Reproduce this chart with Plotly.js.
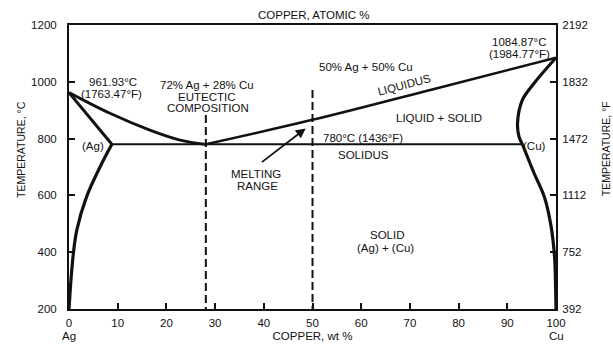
<!DOCTYPE html>
<html>
<head>
<meta charset="utf-8">
<script src="https://cdn.plot.ly/plotly-3.0.1.min.js"></script>
<style>
html,body{margin:0;padding:0;background:#fff;}
#chart{width:613px;height:344px;}
</style>
</head>
<body>
<div id="chart"></div>
<script>
// ---- data (wt % Cu, temperature °C) ----
var agSolidusX = [0, 8.8];
var agSolidusT = [961.93, 780];
var agSolvusX = [8.8, 6.4, 3.6, 1.6, 0.9, 0.4, 0.15, 0];
var agSolvusT = [780, 701, 595, 478, 396, 302, 240, 200];
var liquidusLeftX = [0, 8.4, 16.6, 22.8, 28.1];
var liquidusLeftT = [961.93, 889, 830, 795, 780];
var liquidusRightX = [28.1, 50, 75, 100];
var liquidusRightT = [780, 866, 975, 1084.87];
var eutecticLineX = [8.8, 93.1];
var eutecticLineT = [780, 780];
var cuSolidusX = [100, 95.5, 93.1, 92.1, 92.4, 93.1];
var cuSolidusT = [1084.87, 995, 936, 854, 807, 780];
var cuSolvusX = [93.1, 95.5, 97.6, 99, 99.7, 99.9, 100];
var cuSolvusT = [780, 678, 595, 490, 384, 290, 200];
var eutecticCompX = [28.1, 28.1];
var eutecticCompT = [883, 200];
var halfCompX = [50, 50];
var halfCompT = [971, 200];

var xTickVals = [0, 10, 20, 30, 40, 50, 60, 70, 80, 90, 100];
var xTickText = ['0', '10', '20', '30', '40', '50', '60', '70', '80', '90', '100'];
var cTickVals = [200, 400, 600, 800, 1000, 1200];
var fTickVals = [392, 752, 1112, 1472, 1832, 2192];

var FONT = 'Liberation Sans, Arial, Helvetica, sans-serif';
var INK = '#111111';
var FS = 11.5;

function curve(x, y, w, shape, dash) {
  return {
    x: x, y: y, type: 'scatter', mode: 'lines', hoverinfo: 'skip', showlegend: false,
    line: {color: INK, width: w, shape: shape || 'linear', smoothing: 1, dash: dash || 'solid'}
  };
}

var traces = [
  curve(agSolidusX, agSolidusT, 3),
  curve(agSolvusX, agSolvusT, 3.2, 'spline'),
  curve(liquidusLeftX, liquidusLeftT, 2.8, 'spline'),
  curve(liquidusRightX, liquidusRightT, 2.6, 'spline'),
  curve(eutecticLineX, eutecticLineT, 2),
  curve(cuSolidusX, cuSolidusT, 3.2, 'spline'),
  curve(cuSolvusX, cuSolvusT, 3.2, 'spline'),
  curve(eutecticCompX, eutecticCompT, 2, 'linear', '8px,4px'),
  curve(halfCompX, halfCompT, 2, 'linear', '8px,4px')
];
// invisible trace to anchor the °F axis
traces.push({x: [50], y: [1472], yaxis: 'y2', type: 'scatter', mode: 'markers',
  marker: {opacity: 0}, hoverinfo: 'skip', showlegend: false});

function lab(text, x, y, extra) {
  var a = {text: text, x: x, y: y, xref: 'x', yref: 'y', showarrow: false,
    xanchor: 'center', yanchor: 'middle', font: {family: FONT, size: FS, color: INK}};
  if (extra) for (var k in extra) a[k] = extra[k];
  return a;
}

var annotations = [
  lab('961.93°C', 9.05, 999),
  lab('(1763.47°F)', 8.64, 957),
  lab('72% Ag + 28% Cu', 28.33, 989),
  lab('EUTECTIC', 28.33, 945),
  lab('COMPOSITION', 28.5, 909),
  lab('(Ag)', 5.0, 775),
  lab('50% Ag + 50% Cu', 61.07, 1051),
  lab('LIQUIDUS', 68.8, 988, {textangle: -15}),
  lab('LIQUID + SOLID', 75.93, 871),
  lab('780°C (1436°F)', 60.29, 801),
  lab('SOLIDUS', 60.56, 742),
  lab('(Cu)', 95.64, 775),
  lab('1084.87°C', 92.45, 1139),
  lab('(1984.77°F)', 92.53, 1097),
  lab('MELTING', 38.48, 675),
  lab('RANGE', 38.68, 633),
  lab('SOLID', 65.37, 459),
  lab('(Ag) + (Cu)', 65.08, 415),
  // arrow from MELTING RANGE to the liquidus
  {x: 48.6, y: 836, ax: 39.3, ay: 713, xref: 'x', yref: 'y', axref: 'x', ayref: 'y',
   text: '', showarrow: true, arrowhead: 2, arrowsize: 1.1, arrowwidth: 1.8, arrowcolor: INK},
  // top axis label
  {text: 'COPPER, ATOMIC %', xref: 'paper', yref: 'paper', x: 0.503, y: 1.035,
   xanchor: 'center', yanchor: 'middle', showarrow: false, font: {family: FONT, size: FS, color: INK}},
  // element labels under the x axis
  {text: 'Ag', xref: 'x', yref: 'paper', x: 0, y: -0.0966, yanchor: 'middle', xanchor: 'center',
   showarrow: false, font: {family: FONT, size: FS, color: INK}},
  {text: 'Cu', xref: 'x', yref: 'paper', x: 100, y: -0.0966, yanchor: 'middle', xanchor: 'center',
   showarrow: false, font: {family: FONT, size: FS, color: INK}},
  // y axis titles
  {text: 'TEMPERATURE, °C', xref: 'paper', yref: 'paper', x: -0.099, y: 0.563,
   xanchor: 'center', yanchor: 'middle', textangle: -90, showarrow: false,
   font: {family: FONT, size: FS - 1, color: INK}},
  {text: 'TEMPERATURE, °F', xref: 'paper', yref: 'paper', x: 1.103, y: 0.563,
   xanchor: 'center', yanchor: 'middle', textangle: -90, showarrow: false,
   font: {family: FONT, size: FS - 1, color: INK}}
];

var axisCommon = {
  showgrid: false, zeroline: false, showline: true, linecolor: INK, linewidth: 2,
  ticks: 'inside', tickcolor: INK, tickwidth: 2,
  tickfont: {family: FONT, size: FS, color: INK}
};

var layout = {
  width: 613, height: 344,
  margin: {l: 69, r: 57, t: 25, b: 35},
  paper_bgcolor: '#ffffff', plot_bgcolor: '#ffffff',
  showlegend: false,
  font: {family: FONT, size: FS, color: INK},
  xaxis: Object.assign({}, axisCommon, {
    range: [0, 100], tickmode: 'array', tickvals: xTickVals, ticktext: xTickText,
    ticklen: 6, mirror: true, ticklabelstandoff: 2,
    title: {text: 'COPPER, wt %', standoff: 4, font: {family: FONT, size: FS, color: INK}}
  }),
  yaxis: Object.assign({}, axisCommon, {
    range: [200, 1200], tickmode: 'array', tickvals: cTickVals, ticklen: 6,
    ticklabelstandoff: 8
  }),
  yaxis2: Object.assign({}, axisCommon, {
    range: [392, 2192], tickmode: 'array', tickvals: fTickVals, ticklen: 6,
    overlaying: 'y', side: 'right', ticklabelstandoff: 2
  }),
  annotations: annotations
};

Plotly.newPlot('chart', traces, layout, {staticPlot: true, displayModeBar: false});
</script>
</body>
</html>
